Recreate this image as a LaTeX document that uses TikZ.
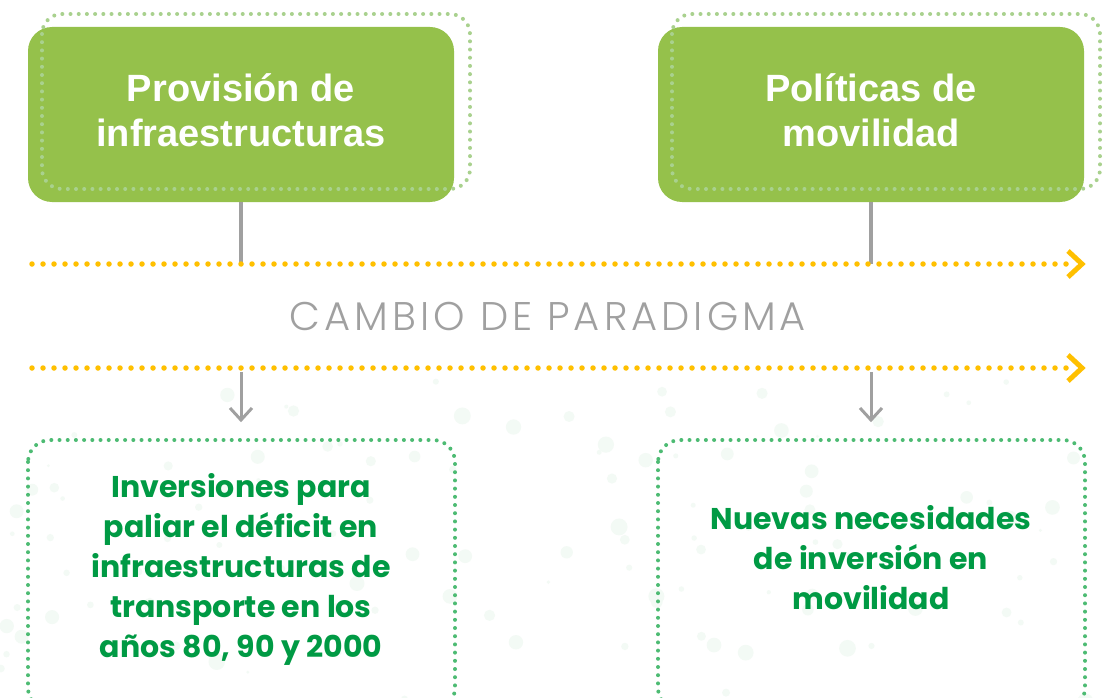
\documentclass[tikz,border=0pt]{standalone}
\usepackage{fontspec}
\setmainfont{Liberation Sans}
\newfontfamily\gotham{Poppins}
\newfontfamily\gothamlight{Poppins}[UprightFont=* Light, LetterSpace=10]
\definecolor{boxgreen}{HTML}{95C14B}
\definecolor{lightdot}{HTML}{A9D18E}
\definecolor{orangedot}{HTML}{FFC000}
\definecolor{graycon}{HTML}{A0A0A0}
\definecolor{darkgreen}{HTML}{009A44}
\definecolor{greendot}{HTML}{4DBB73}
\definecolor{bgdotc}{HTML}{F3FAF5}
\tikzset{
  topbox/.style={fill=boxgreen, rounded corners=24pt, minimum width=426pt, minimum height=175pt, inner sep=0pt},
  toptext/.style={inner sep=0pt, align=center, text=white, font=\bfseries\fontsize{38}{45}\selectfont},
  topdots/.style={draw=lightdot, line width=4pt, line cap=round, dash pattern=on 0pt off 8.2pt, rounded corners=20pt},
  botbox/.style={draw=greendot, line width=4pt, line cap=round, dash pattern=on 0pt off 8.2pt, rounded corners=22pt},
  bottext/.style={align=center, text=darkgreen, inner sep=0pt, font=\gotham\bfseries\fontsize{30}{40}\selectfont},
  orangeline/.style={draw=orangedot, line width=5.5pt, line cap=round, dash pattern=on 0pt off 11pt},
  chev/.style={draw=orangedot, line width=5pt, line cap=butt, line join=miter},
  conn/.style={draw=graycon, line width=3.5pt},
  downarrow/.style={draw=graycon, line width=3pt, line join=miter},
  bgdot/.style={fill=bgdotc}
}
\begin{document}
\begin{tikzpicture}[x=1pt,y=-1pt]
\useasboundingbox (0,0) rectangle (1103,698);
\fill[white] (0,0) rectangle (1103,698);
% faint background dots
\pgfmathsetseed{11}
\foreach \i in {1,...,110}{
  \pgfmathsetmacro\xx{rnd*1103}
  \pgfmathsetmacro\yy{380+rnd*330}
  \pgfmathsetmacro\rr{1.5+rnd*7}
  \fill[bgdot] (\xx,\yy) circle[radius=\rr pt];
}
% top boxes
\node[topbox] (prov) at (241,114.5) {};
\node[topbox] (pol) at (871,114.5) {};
\node[toptext] (provt) at ([yshift=4pt]prov.center) {Provisión de\\infraestructuras};
\node[toptext] (polt) at ([yshift=4pt]pol.center) {Políticas de\\movilidad};
\draw[topdots] (42,14) rectangle (470,189);
\draw[topdots] (672,14) rectangle (1100,189);
% orange timeline lines
\coordinate (l1s) at (32,264);
\coordinate (l1e) at (1076,264);
\coordinate (l1t) at (1082,264);
\coordinate (l2s) at (32,368);
\coordinate (l2e) at (1076,368);
\coordinate (l2t) at (1082,368);
\draw[conn] (prov.south) -- (prov.south |- l1s);
\draw[conn] (pol.south) -- (pol.south |- l1s);
\draw[orangeline] (l1s) -- (l1e);
\draw[orangeline] (l2s) -- (l2e);
\draw[chev] ([xshift=-14pt,yshift=13pt]l1t) -- (l1t) -- ([xshift=-14pt,yshift=-13pt]l1t);
\draw[chev] ([xshift=-14pt,yshift=13pt]l2t) -- (l2t) -- ([xshift=-14pt,yshift=-13pt]l2t);
% middle label
\node[text=graycon, inner sep=0pt, font=\gothamlight\fontsize{40}{44}\selectfont] (cambio) at (548,316) {CAMBIO DE PARADIGMA};
% bottom boxes
\draw[botbox] (28,440) rectangle (455,710);
\draw[botbox] (658,440) rectangle (1085,710);
\coordinate (a1s) at (241,372);
\coordinate (a1e) at (241,420);
\coordinate (a2s) at (871,372);
\coordinate (a2e) at (871,420);
\draw[conn, line width=3pt] (a1s) -- (a1e);
\draw[conn, line width=3pt] (a2s) -- (a2e);
\draw[downarrow] ([xshift=-11pt,yshift=12pt]a1e) -- (a1e) -- ([xshift=11pt,yshift=12pt]a1e);
\draw[downarrow] ([xshift=-11pt,yshift=12pt]a2e) -- (a2e) -- ([xshift=11pt,yshift=12pt]a2e);
\node[bottext] (inv) at (241,569) {Inversiones para\\paliar el déficit en\\infraestructuras de\\transporte en los\\años 80, 90 y 2000};
\node[bottext] (nue) at (871,558) {Nuevas necesidades\\de inversión en\\movilidad};
\end{tikzpicture}
\end{document}
